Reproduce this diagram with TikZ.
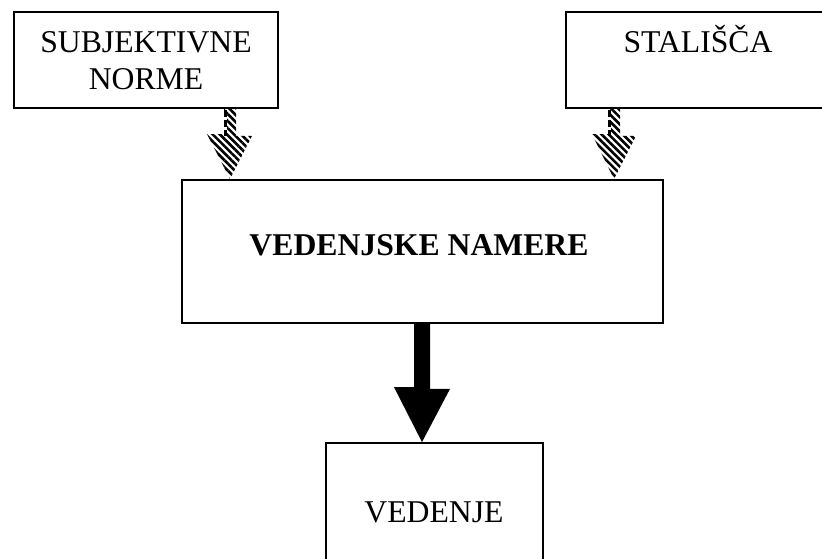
\documentclass[tikz,border=0pt]{standalone}
\usepackage{fontspec}
\setmainfont{Liberation Serif}
\usetikzlibrary{patterns.meta}
\begin{document}
\begin{tikzpicture}[x=1pt,y=-1pt,
  box/.style={draw, line width=1.8pt, fill=white, inner sep=0pt},
  lbl/.style={inner sep=0pt, font=\fontsize{31.7}{37}\selectfont},
  hatch/.style={pattern={Lines[angle=-45,distance=5pt,line width=2.6pt]}},
  dashw/.style={line width=3pt, white},
  dashb/.style={line width=3pt, dash pattern=on 7pt off 3pt},
]
\useasboundingbox (0,0) rectangle (822,558);
\fill[white] (0,0) rectangle (822,558);
% boxes
\node[box, minimum width=264pt, minimum height=96pt] (sn) at (146,60) {};
\node[box, minimum width=258pt, minimum height=96pt] (st) at (695,60) {};
\node[box, minimum width=481pt, minimum height=143pt] (mn) at (422.5,251.5) {};
\node[box, minimum width=217pt, minimum height=132pt] (vn) at (434.5,509) {};
% texts
\node[lbl, align=center, anchor=north] (snt) at (146,31.5) {SUBJEKTIVNE\\NORME};
\node[lbl, anchor=base] (stt) at (698,52) {STALIŠČA};
\node[lbl, anchor=base, font=\bfseries\fontsize{31.7}{37}\selectfont] (mnt) at (419,255) {VEDENJSKE NAMERE};
\node[lbl, anchor=base] (vnt) at (434,522) {VEDENJE};
% arrow x positions
\coordinate (c1) at (230,0);
\coordinate (c2) at (614,0);
\coordinate (c3) at (422,0);
% hatched arrow 1
\path[hatch] (c1 |- sn.south) ++(-6,0) -- ++(12,0) -- ++(0,27) -- ++(16,0)
  -- (c1 |- mn.north) -- ++(-23,-45) -- ++(17,0) -- cycle;
\draw[dashw] (c1 |- sn.south) ++(-4.5,1) -- ++(0,26);
\draw[dashb] (c1 |- sn.south) ++(-4.5,1) -- ++(0,26);
% hatched arrow 2
\path[hatch] (c2 |- st.south) ++(-6,0) -- ++(12,0) -- ++(0,27) -- ++(16,0)
  -- (c2 |- mn.north) -- ++(-22,-45) -- ++(16,0) -- cycle;
\draw[dashw] (c2 |- st.south) ++(-4.5,1) -- ++(0,26);
\draw[dashb] (c2 |- st.south) ++(-4.5,1) -- ++(0,26);
% solid arrow
\fill (c3 |- mn.south) ++(-8,0) -- ++(16,0) -- ++(0,65) -- ++(20,0)
  -- (c3 |- vn.north) -- ++(-28,-55) -- ++(20,0) -- cycle;
\end{tikzpicture}
\end{document}
